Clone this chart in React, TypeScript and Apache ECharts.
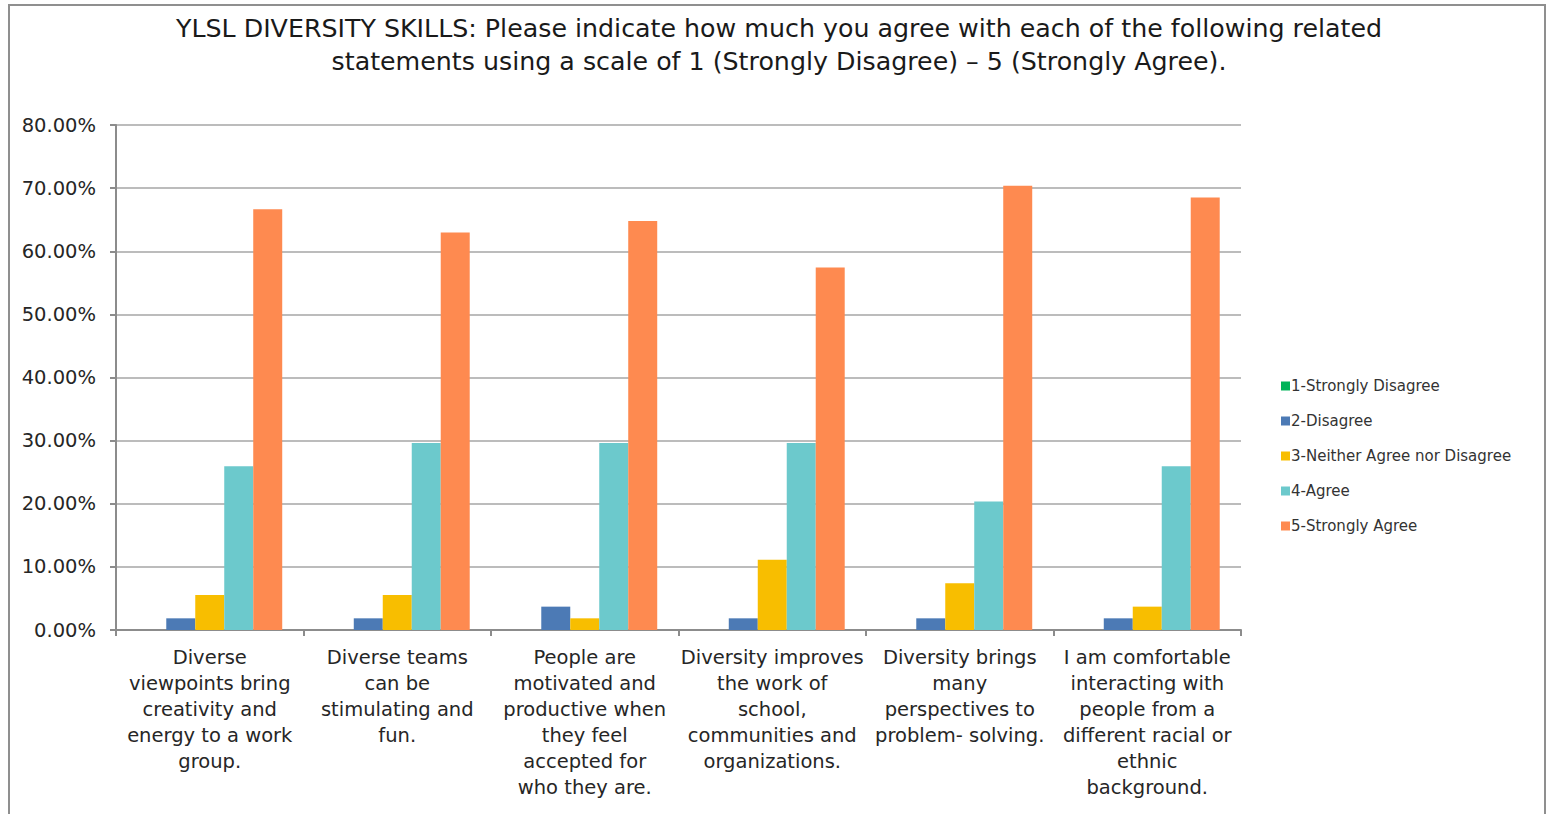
import React, { useEffect, useRef } from "react";
import * as echarts from "echarts";

const titleText =
  "YLSL DIVERSITY SKILLS: Please indicate how much you agree with each of the following related\nstatements using a scale of 1 (Strongly Disagree) – 5 (Strongly Agree).";

const categories = [
  "Diverse\nviewpoints bring\ncreativity and\nenergy to a work\ngroup.",
  "Diverse teams\ncan be\nstimulating and\nfun.",
  "People are\nmotivated and\nproductive when\nthey feel\naccepted for\nwho they are.",
  "Diversity improves\nthe work of\nschool,\ncommunities and\norganizations.",
  "Diversity brings\nmany\nperspectives to\nproblem- solving.",
  "I am comfortable\ninteracting with\npeople from a\ndifferent racial or\nethnic\nbackground.",
];

const seriesNames = [
  "1-Strongly Disagree",
  "2-Disagree",
  "3-Neither Agree nor Disagree",
  "4-Agree",
  "5-Strongly Agree",
];

const stronglyDisagree = [0, 0, 0, 0, 0, 0];
const disagree = [1.85, 1.85, 3.7, 1.85, 1.85, 1.85];
const neither = [5.56, 5.56, 1.85, 11.11, 7.41, 3.7];
const agree = [25.93, 29.63, 29.63, 29.63, 20.37, 25.93];
const stronglyAgree = [66.67, 62.96, 64.81, 57.41, 70.37, 68.52];

const colors = ["#00B359", "#4C7AB5", "#F8BE00", "#6CC9CC", "#FE8A50"];

const yMin = 0;
const yMax = 80;
const yInterval = 10;

const FONT = "DejaVu Sans";

export default function App() {
  const ref = useRef<HTMLDivElement>(null);
  useEffect(() => {
    if (!ref.current) return;
    const chart = echarts.init(ref.current, undefined, { renderer: "svg" });
    const dataSets = [stronglyDisagree, disagree, neither, agree, stronglyAgree];
    chart.setOption({
      animation: false,
      textStyle: { fontFamily: FONT },
      title: {
        text: titleText,
        left: 774,
        textAlign: "center",
        top: 7,
        textStyle: {
          fontFamily: FONT,
          fontSize: 25.3,
          fontWeight: "normal",
          color: "#1a1a1a",
          lineHeight: 33,
        },
      },
      graphic: [
        {
          type: "rect",
          shape: { x: 9, y: 5, width: 1536, height: 830 },
          style: { fill: "none", stroke: "#8f8f8f", lineWidth: 2 },
          silent: true,
        },
      ],
      legend: {
        orient: "vertical",
        left: 1276,
        top: 372,
        itemWidth: 9,
        itemHeight: 9,
        itemGap: 17,
        icon: "rect",
        textStyle: {
          fontFamily: FONT,
          fontSize: 15,
          lineHeight: 18,
          color: "#333",
          padding: [0, 0, 0, -4],
        },
        data: seriesNames,
      },
      grid: { left: 116, right: 310, top: 125, bottom: 184 },
      xAxis: {
        type: "category",
        data: categories,
        axisLine: { lineStyle: { color: "#8c8c8c", width: 2 } },
        axisTick: { show: true, length: 6, lineStyle: { color: "#8c8c8c", width: 2 } },
        axisLabel: {
          interval: 0,
          fontFamily: FONT,
          fontSize: 19.5,
          color: "#262626",
          lineHeight: 26,
          margin: 14,
        },
      },
      yAxis: {
        type: "value",
        min: yMin,
        max: yMax,
        interval: yInterval,
        axisLine: { show: true, lineStyle: { color: "#8c8c8c", width: 2 } },
        axisTick: { show: true, length: 6, lineStyle: { color: "#8c8c8c", width: 2 } },
        splitLine: { lineStyle: { color: "#a6a6a6", width: 1.5 } },
        axisLabel: {
          fontFamily: FONT,
          fontSize: 19.5,
          color: "#262626",
          margin: 20,
          formatter: (v: number) => v.toFixed(2) + "%",
        },
      },
      series: seriesNames.map((name, i) => ({
        name,
        type: "bar",
        data: dataSets[i],
        barGap: "0%",
        barCategoryGap: "22.7%",
        itemStyle: { color: colors[i] },
      })),
    });
    return () => chart.dispose();
  }, []);
  return (
    <div
      ref={ref}
      style={{ position: "absolute", left: 0, top: 0, width: 1551, height: 814 }}
    />
  );
}
